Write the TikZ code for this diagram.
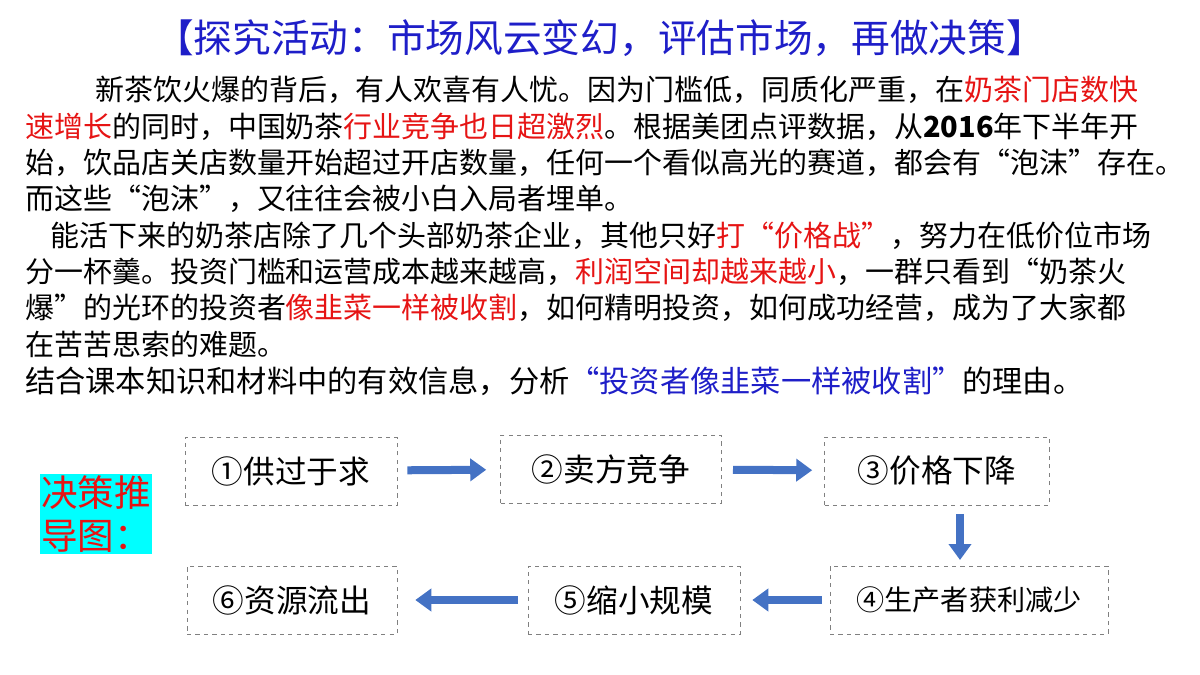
\documentclass[tikz,border=0pt]{standalone}
\usepackage{fontspec}
\setmainfont{Noto Sans CJK SC}
\usetikzlibrary{arrows.meta}
\definecolor{tblue}{RGB}{30,30,200}
\definecolor{tred}{RGB}{230,20,20}
\definecolor{abl}{RGB}{68,114,196}
\definecolor{lcyan}{RGB}{0,255,255}
\newcommand{\R}[1]{\textcolor{tred}{#1}}
\begin{document}
\begin{tikzpicture}[x=0.025cm,y=-0.025cm,
  line/.style={anchor=west,inner sep=0,font=\fontsize{20.6}{21}\selectfont},
  box/.style={draw=gray,dashed,thin,minimum width=#1*0.025cm,minimum height=1.7cm,font=\fontsize{22.5}{22.5}\selectfont},
  barr/.style={draw=abl,line width=0.2cm,-{Triangle[length=0.4cm,width=0.55cm]}}]
\useasboundingbox (0,0) rectangle (1200,675);
\node[inner sep=0,text=tblue,font=\fontsize{27.5}{27.5}\selectfont] (title) at (600,38) {【探究活动：市场风云变幻，评估市场，再做决策】};
\node[line] (l1) at (95,90) {新茶饮火爆的背后，有人欢喜有人忧。因为门槛低，同质化严重，在\R{奶茶门店数快}};
\node[line] (l2) at (25,127) {\R{速增长}的同时，中国奶茶\R{行业竞争也日超激烈}。根据美团点评数据，从\textbf{2016}年下半年开};
\node[line] (l3) at (25,163) {始，饮品店关店数量开始超过开店数量，任何一个看似高光的赛道，都会有“泡沫”存在。};
\node[line] (l4) at (25,199) {而这些“泡沫”，又往往会被小白入局者埋单。};
\node[line] (l5) at (50,236) {能活下来的奶茶店除了几个头部奶茶企业，其他只好\R{打“价格战”}，努力在低价位市场};
\node[line] (l6) at (25,272) {分一杯羹。投资门槛和运营成本越来越高，\R{利润空间却越来越小}，一群只看到“奶茶火};
\node[line] (l7) at (25,308) {爆”的光环的投资者\R{像韭菜一样被收割}，如何精明投资，如何成功经营，成为了大家都};
\node[line] (l8) at (25,344) {在苦苦思索的难题。};
\node[line,font=\fontsize{21.5}{21.5}\selectfont] (l9) at (25,381) {结合课本知识和材料中的有效信息，分析\textcolor{tblue}{“投资者像韭菜一样被收割”}的理由。};
\node[fill=lcyan,text=tred,align=left,inner sep=1pt,font=\fontsize{26}{31}\selectfont] (lab) at (96,514) {决策推\\导图：};
\node[box=212] (b1) at (291,471) {①供过于求};
\node[box=221] (b2) at (611,469) {②卖方竞争};
\node[box=225] (b3) at (937,471) {③价格下降};
\node[box=278,font=\fontsize{20}{20}\selectfont] (b4) at (969,600) {④生产者获利减少};
\node[box=212] (b5) at (634,600) {⑤缩小规模};
\node[box=210] (b6) at (292,600) {⑥资源流出};
\coordinate (d1) at (960,505);
\coordinate (d2) at (960,566);
\draw[barr,shorten <=0.25cm,shorten >=0.35cm] (b1) -- (b2);
\draw[barr,shorten <=0.28cm,shorten >=0.3cm] (b2) -- (b3);
\draw[barr,shorten <=0.22cm,shorten >=0.15cm] (d1) -- (d2);
\draw[barr,shorten <=0.2cm,shorten >=0.3cm] (b4) -- (b5);
\draw[barr,shorten <=0.25cm,shorten >=0.45cm] (b5) -- (b6);
\end{tikzpicture}
\end{document}
